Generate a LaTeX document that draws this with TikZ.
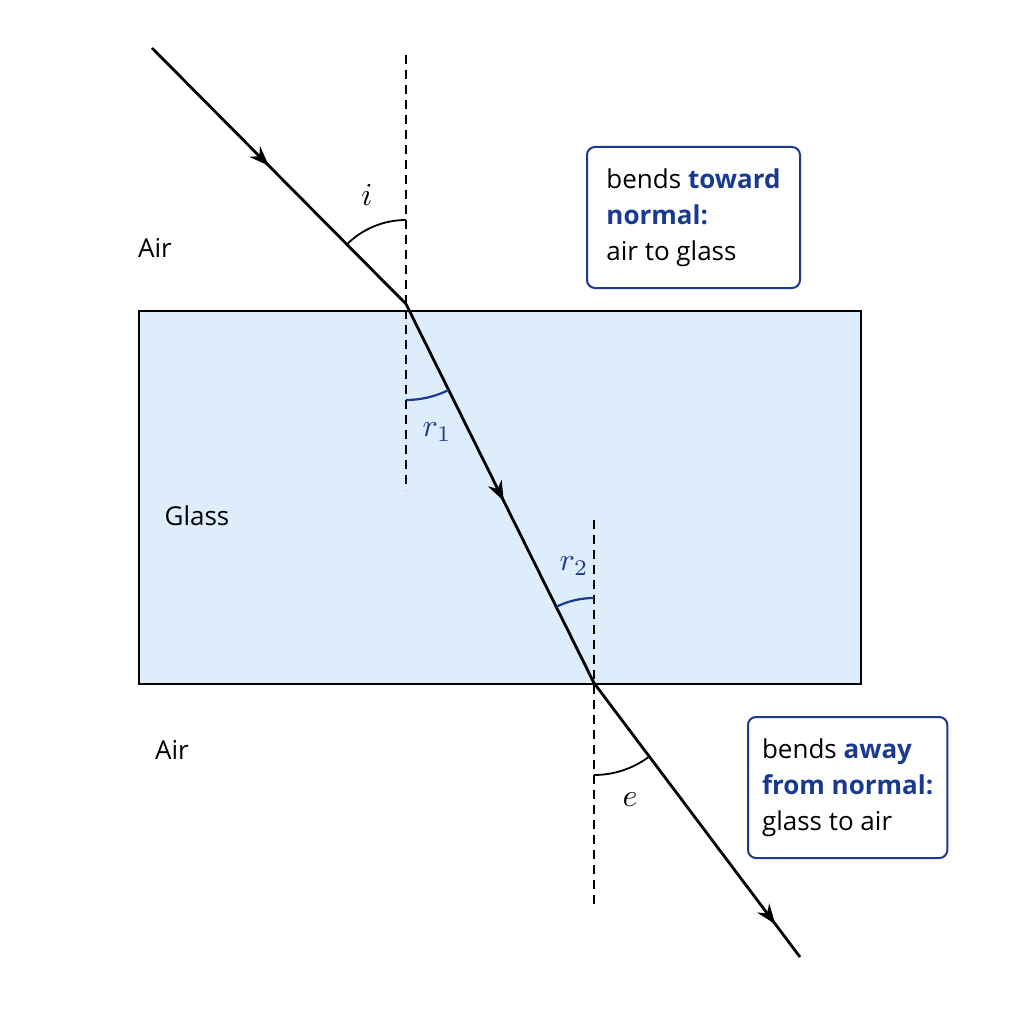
\documentclass[tikz,border=0pt]{standalone}
\usepackage{fontspec}
\setmainfont{Open Sans}
\usetikzlibrary{decorations.markings,arrows.meta}
\definecolor{bl}{HTML}{1A3A8F}
\definecolor{glass}{HTML}{DEEDFB}
\begin{document}
\begin{tikzpicture}[x=1pt,y=-1pt,
  ray/.style={line width=2.8pt,postaction={decorate},decoration={markings,mark=at position #1 with {\arrow{Stealth[length=20pt,width=15pt]}}}},
  normal/.style={line width=1.6pt,dash pattern=on 9pt off 6pt},
  lbl/.style={font=\fontsize{26}{32}\selectfont},
  box/.style={draw=bl,line width=2pt,rounded corners=8pt,align=left,inner sep=14pt,font=\fontsize{26}{36}\selectfont,anchor=north west},
  ang/.style={}]
\useasboundingbox (0,0) rectangle (1024,1024);
\node[draw,line width=2pt,fill=glass,minimum width=722pt,minimum height=373pt,anchor=north west,inner sep=0] (g) at (138,310) {};
\coordinate (s) at (152,48);
\coordinate (p) at (406,304);
\coordinate (q) at (594,683);
\coordinate (t) at (800,957);
\coordinate (n1a) at (406,55); \coordinate (n1b) at (406,490);
\coordinate (n2a) at (594,520); \coordinate (n2b) at (594,905);
\draw[normal] (n1a) -- (n1b);
\draw[normal] (n2a) -- (n2b);
\draw[ray=0.46] (s) -- (p);
\draw[ray=0.52] (p) -- (q);
\draw[ray=0.88] (q) -- (t);
\draw[line width=1.8pt] (p) ++(-90:84) arc (-90:-135.2:84);
\draw[bl,line width=2.2pt] (p) ++(90:96) arc (90:63.6:96);
\draw[bl,line width=2.2pt] (q) ++(-90:85) arc (-90:-116.4:85);
\draw[line width=1.8pt] (q) ++(90:92) arc (90:53:92);
\node[ang] (ai) at (367,195) {\scalebox{3.2}{$i$}};
\node[ang,bl] (ar1) at (437,432) {\scalebox{3.2}{$r_1$}};
\node[ang,bl] (ar2) at (574,566) {\scalebox{3.2}{$r_2$}};
\node[ang] (ae) at (630,800) {\scalebox{3.2}{$e$}};
\node[lbl] (air1) at (155,248) {Air};
\node[lbl] (gl) at (197,516) {Glass};
\node[lbl] (air2) at (172,750) {Air};
\node[box,minimum width=213pt,minimum height=141pt] (b1) at (586,146) {bends \textcolor{bl}{\textbf{toward}}\\\textcolor{bl}{\textbf{normal:}}\\air to glass};
\node[box,minimum width=199pt,minimum height=141pt] (b2) at (747,716) {bends \textcolor{bl}{\textbf{away}}\\\textcolor{bl}{\textbf{from normal:}}\\glass to air};
\end{tikzpicture}
\end{document}
